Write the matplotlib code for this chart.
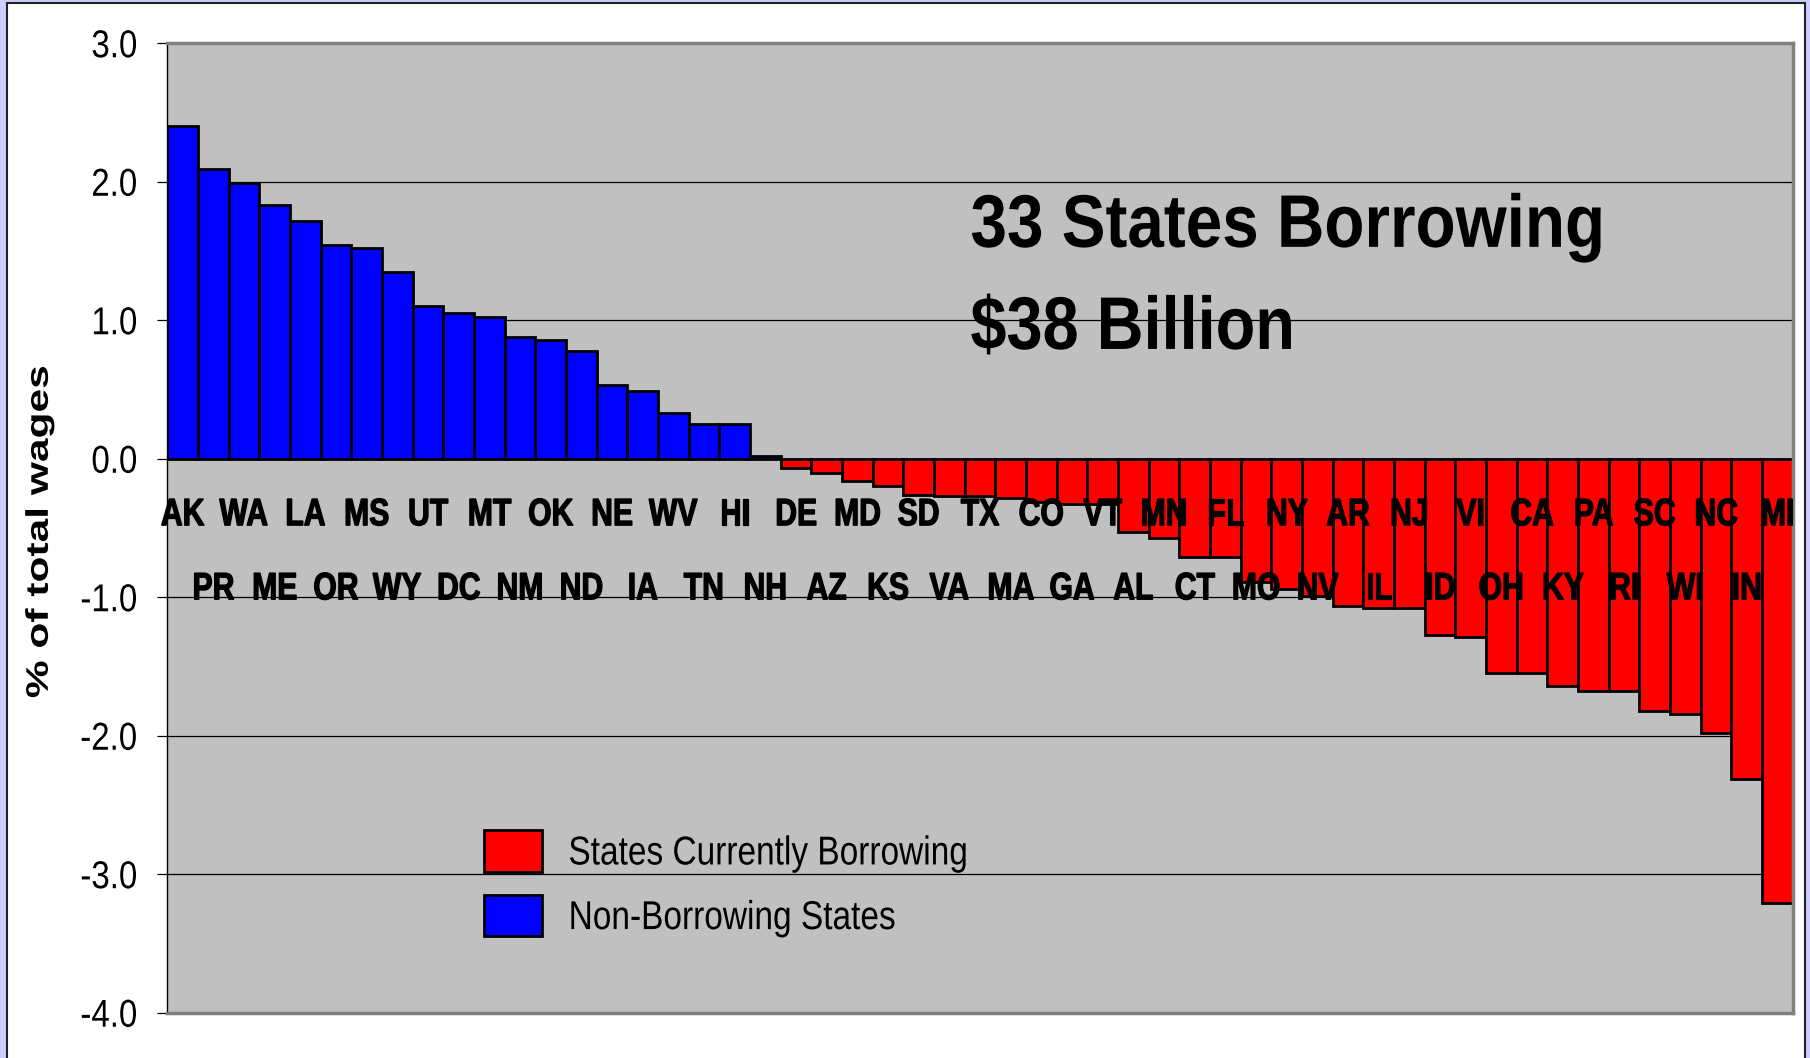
import matplotlib
matplotlib.use("Agg")
import matplotlib.pyplot as plt
from matplotlib.patches import Rectangle, Patch
from matplotlib.patheffects import AbstractPathEffect
from matplotlib.transforms import Affine2D

plt.rcParams["font.family"] = ["Liberation Sans", "DejaVu Sans"]
plt.rcParams["axes.unicode_minus"] = False

# Trust fund balance as % of total wages, sorted high to low
states = ["AK", "PR", "WA", "ME", "LA", "OR", "MS", "WY", "UT", "DC",
          "MT", "NM", "OK", "ND", "NE", "IA", "WV", "TN", "HI", "NH",
          "DE", "AZ", "MD", "KS", "SD", "VA", "TX", "MA", "CO", "GA",
          "VT", "AL", "MN", "CT", "FL", "MO", "NY", "NV", "AR", "IL",
          "NJ", "ID", "VI", "OH", "CA", "KY", "PA", "RI", "SC", "WI",
          "NC", "IN", "MI"]
values = [2.40, 2.09, 1.99, 1.83, 1.72, 1.54, 1.52, 1.35, 1.10, 1.05,
          1.02, 0.88, 0.86, 0.78, 0.53, 0.49, 0.33, 0.25, 0.25, 0.02,
          -0.07, -0.10, -0.16, -0.20, -0.26, -0.27, -0.27, -0.28, -0.31, -0.33,
          -0.33, -0.53, -0.57, -0.71, -0.71, -0.89, -0.94, -0.99, -1.06, -1.08,
          -1.08, -1.27, -1.29, -1.55, -1.55, -1.64, -1.68, -1.68, -1.82, -1.84,
          -1.98, -2.31, -3.21]
y_ticks = [3.0, 2.0, 1.0, 0.0, -1.0, -2.0, -3.0, -4.0]
y_tick_labels = ["3.0", "2.0", "1.0", "0.0", "-1.0", "-2.0", "-3.0", "-4.0"]
legend_labels = ["States Currently Borrowing", "Non-Borrowing States"]
headline = ["33 States Borrowing", "$38 Billion"]


class Squeeze(AbstractPathEffect):
    """Scale text glyphs (Arial Narrow look) around an anchor, optional heavier stroke."""

    def __init__(self, sx=1.0, anchor="center", sy=1.0, stroke=0):
        super().__init__()
        self.sx = sx
        self.sy = sy
        self.anchor = anchor
        self.stroke = stroke

    def draw_path(self, renderer, gc, tpath, affine, rgbFace=None):
        ext = tpath.get_extents(affine)
        if self.anchor == "left":
            x0 = ext.x0
        elif self.anchor == "right":
            x0 = ext.x1
        else:
            x0 = (ext.x0 + ext.x1) / 2
        y0 = (ext.y0 + ext.y1) / 2
        tr = affine + Affine2D().translate(-x0, -y0).scale(self.sx, self.sy).translate(x0, y0)
        if self.stroke:
            gc0 = renderer.new_gc()
            gc0.copy_properties(gc)
            gc0.set_linewidth(self.stroke)
            gc0.set_foreground(rgbFace)
            gc0.set_joinstyle("miter")
            renderer.draw_path(gc0, tpath, tr, rgbFace)
            gc0.restore()
        else:
            renderer.draw_path(gc, tpath, tr, rgbFace)


fig = plt.figure(figsize=(18.1, 10.58), dpi=100, facecolor="#CCCCFF")
fig.add_artist(Rectangle((7 / 1810, -0.01), 1798 / 1810, 1.01 - 3 / 1058,
                         transform=fig.transFigure, facecolor="white",
                         edgecolor="#222222", linewidth=1.5, zorder=-10))

ax = fig.add_axes([0.0924, 0.0428, 0.8981, 0.9163])
ax.set_facecolor("#C0C0C0")

x = list(range(len(states)))
colors = ["#FF0000" if v < 0 else "#0000FF" for v in values]
ax.bar(x, values, width=1.0, color=colors, edgecolor="black", linewidth=2.0)

# state labels in two staggered rows
for i, st in enumerate(states):
    y = -0.48 if i % 2 == 0 else -1.015
    ax.text(i, y, st, ha="center", va="baseline", fontsize=27.5, fontweight="bold",
            path_effects=[Squeeze(0.79, stroke=0.9)])

ax.set_xlim(-0.5, len(states) - 0.5)
ax.set_ylim(-4, 3)
ax.set_xticks([])
ax.set_yticks(y_ticks)
ax.set_yticklabels(y_tick_labels)
ax.tick_params(axis="y", direction="out", length=7.4, width=0.9, pad=14,
               labelsize=28)
for t in ax.get_yticklabels():
    t.set_path_effects([Squeeze(0.85, "right")])

ax.yaxis.grid(True, color="black", linewidth=0.9)
ax.set_axisbelow(True)
ax.spines["left"].set(color="black", linewidth=1)
for s in ["top", "right", "bottom"]:
    ax.spines[s].set(color="#808080", linewidth=2.5)

ax.set_ylabel("% of total wages", fontsize=22.5, fontweight="bold",
              path_effects=[Squeeze(1.0, sy=1.36)])
ax.yaxis.set_label_coords(-0.0784, 0.4959)
ax.yaxis.label.set_verticalalignment("center")

ax.text(0.494, 0.79, headline[0], transform=ax.transAxes, fontsize=53.7,
        fontweight="bold", ha="left", va="baseline",
        path_effects=[Squeeze(0.88, "left")])
ax.text(0.494, 0.6847, headline[1], transform=ax.transAxes, fontsize=53.7,
        fontweight="bold", ha="left", va="baseline",
        path_effects=[Squeeze(0.87, "left")])

handles = [Patch(facecolor="#FF0000", edgecolor="black", linewidth=2),
           Patch(facecolor="#0000FF", edgecolor="black", linewidth=2)]
leg = ax.legend(handles, legend_labels, loc="upper left", bbox_to_anchor=(0.1948, 0.1885),
                frameon=False, fontsize=29, handlelength=1.43, handleheight=1.22,
                handletextpad=0.66, labelspacing=0.55, borderpad=0, borderaxespad=0)
for t in leg.get_texts():
    t.set_path_effects([Squeeze(0.83, "left")])

fig.savefig("out.png", dpi=100, facecolor=fig.get_facecolor())
